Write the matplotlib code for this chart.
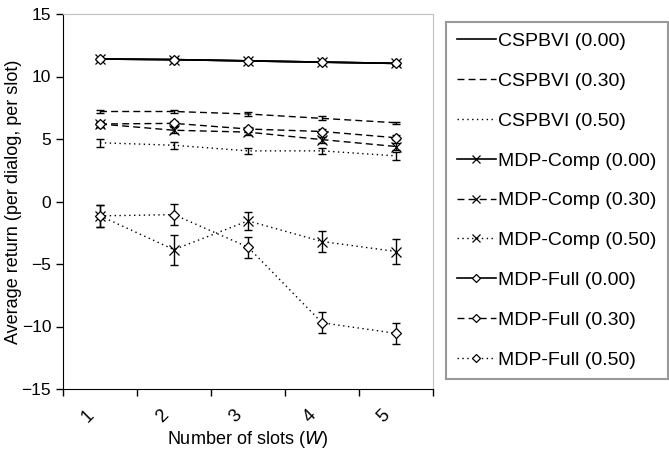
import matplotlib
matplotlib.use('Agg')
import matplotlib.pyplot as plt
from matplotlib.transforms import ScaledTranslation
import numpy as np

plt.rcParams['font.family'] = ['Liberation Sans', 'DejaVu Sans']
plt.rcParams['font.size'] = 13

slots = ['1', '2', '3', '4', '5']

# noise level 0.00
cspbvi_00 = [11.4, 11.35, 11.25, 11.15, 11.05]
cspbvi_00_err = [0.1, 0.1, 0.1, 0.1, 0.1]
comp_00 = [11.4, 11.35, 11.25, 11.15, 11.05]
comp_00_err = [0.1, 0.1, 0.1, 0.1, 0.1]
full_00 = [11.4, 11.35, 11.25, 11.15, 11.05]
full_00_err = [0.1, 0.1, 0.1, 0.1, 0.1]

# noise level 0.30
cspbvi_30 = [7.2, 7.2, 7.0, 6.65, 6.3]
cspbvi_30_err = [0.15, 0.15, 0.15, 0.15, 0.1]
comp_30 = [6.2, 5.7, 5.55, 4.95, 4.4]
comp_30_err = [0.2, 0.25, 0.2, 0.25, 0.3]
full_30 = [6.2, 6.25, 5.8, 5.6, 5.1]
full_30_err = [0.2, 0.2, 0.2, 0.2, 0.2]

# noise level 0.50
cspbvi_50 = [4.7, 4.5, 4.05, 4.05, 3.65]
cspbvi_50_err = [0.3, 0.3, 0.25, 0.25, 0.3]
comp_50 = [-1.15, -3.85, -1.55, -3.2, -4.0]
comp_50_err = [0.85, 1.2, 0.75, 0.85, 1.0]
full_50 = [-1.15, -1.05, -3.65, -9.7, -10.55]
full_50_err = [0.85, 0.85, 0.85, 0.85, 0.85]

solid = '-'
dashed = (0, (5, 3))
dotted = (0, (1, 2.5))

series = [
    ('CSPBVI (0.00)', cspbvi_00, cspbvi_00_err, solid, None),
    ('CSPBVI (0.30)', cspbvi_30, cspbvi_30_err, dashed, None),
    ('CSPBVI (0.50)', cspbvi_50, cspbvi_50_err, dotted, None),
    ('MDP-Comp (0.00)', comp_00, comp_00_err, solid, 'x'),
    ('MDP-Comp (0.30)', comp_30, comp_30_err, dashed, 'x'),
    ('MDP-Comp (0.50)', comp_50, comp_50_err, dotted, 'x'),
    ('MDP-Full (0.00)', full_00, full_00_err, solid, 'D'),
    ('MDP-Full (0.30)', full_30, full_30_err, dashed, 'D'),
    ('MDP-Full (0.50)', full_50, full_50_err, dotted, 'D'),
]

fig = plt.figure(figsize=(6.69, 4.51), dpi=100)
ax = fig.add_axes([63/669, 1 - 389/451, 370/669, 375/451])

x = np.arange(len(slots))
for label, vals, err, ls, mk in series:
    ax.errorbar(x, vals, yerr=err, fmt='none', ecolor='black', elinewidth=1,
                capsize=3, capthick=1, zorder=2)
    ms = 7 if mk == 'x' else 5.5
    lw = 1.2 if ls == solid else 1
    ax.plot(x, vals, color='black', linestyle=ls, linewidth=lw, marker=mk,
            markersize=ms, markerfacecolor='white', markeredgecolor='black',
            markeredgewidth=0.9, label=label, zorder=3)

ax.set_xlim(-0.5, len(slots) - 0.5)
ax.set_ylim(-15, 15)
ax.set_yticks(np.arange(-15, 16, 5))
ax.set_xticks(np.arange(-0.5, len(slots), 1))
ax.set_xticklabels([])
ax.set_xticks(x, minor=True)
ax.set_xticklabels(slots, minor=True, rotation=45)
ax.tick_params(axis='x', which='minor', length=0, pad=13)
ax.tick_params(axis='both', which='major', length=5, direction='out', width=1,
               labelsize=12.5)
for lab in ax.get_xticklabels(minor=True):
    lab.set_transform(lab.get_transform() + ScaledTranslation(-0.12, 0, fig.dpi_scale_trans))

for side in ['top', 'right']:
    ax.spines[side].set_color('#c0c0c0')
for side in ['left', 'bottom']:
    ax.spines[side].set_color('black')

ax.set_ylabel('Average return (per dialog, per slot)')
ax.yaxis.set_label_coords(-0.112, 0.5)
ax.set_xlabel('Number of slots ($\\mathit{W}$)')
ax.xaxis.set_label_coords(0.5, -0.108)

leg = fig.legend(loc='upper left', bbox_to_anchor=(446/669, 1 - 22/451),
                 borderaxespad=0, frameon=True, fancybox=False, numpoints=1,
                 fontsize=14, handlelength=2.0, handletextpad=0.15,
                 labelspacing=1.14, borderpad=0.55, markerscale=0.75)
leg.get_frame().set_edgecolor('#808080')
leg.get_frame().set_linewidth(1.5)

fig.savefig('out.png', dpi=100)
